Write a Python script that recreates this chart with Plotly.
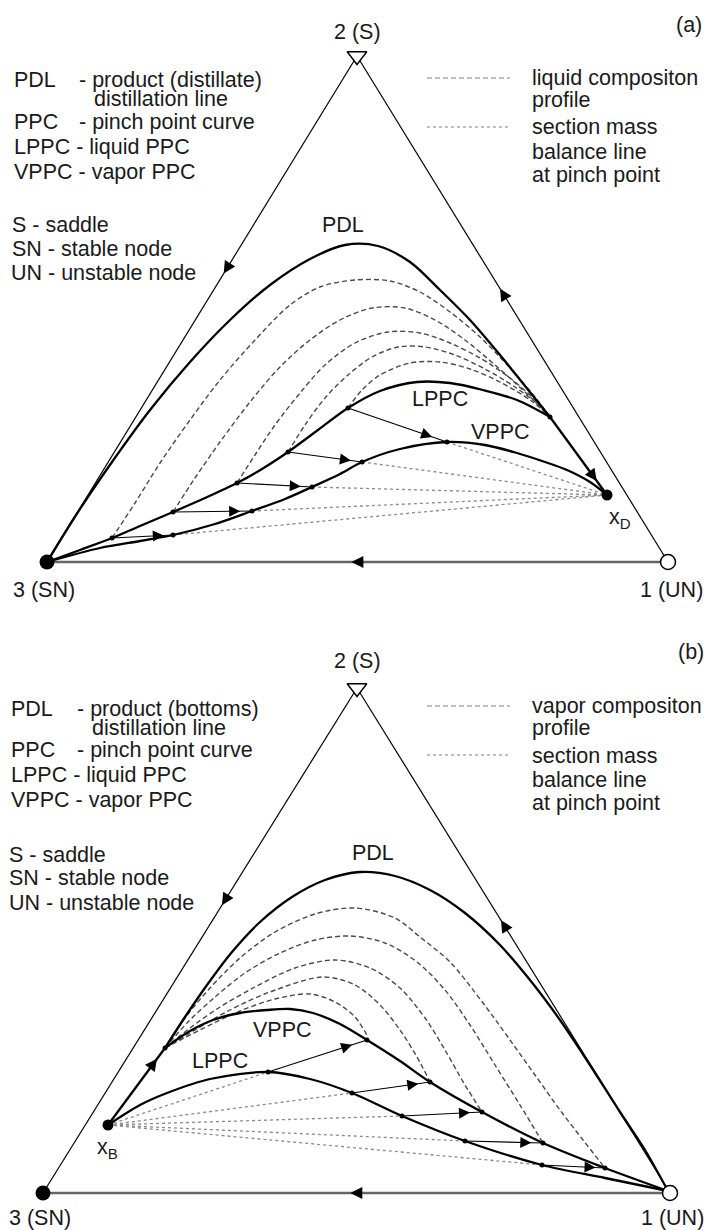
import math
import plotly.graph_objects as go

FONT = "Liberation Sans, Arial, sans-serif"
FS = 21.5

# ---------------- panel (a) : distillate ----------------
A_TRI_X = [357, 47, 668]          # vertices 2, 3, 1
A_TRI_Y = [56, 562, 562]
A_XD = [607, 495]
A_PDL_X = [47, 78, 112, 150, 190, 230, 270, 310, 345, 378, 410, 440, 470, 500, 525, 550]
A_PDL_Y = [562, 512, 462, 410, 362, 320, 285, 259, 245, 246, 262, 290, 320, 355, 386, 417]
A_LPPC_X = [47, 80, 112, 140, 173, 205, 237, 262, 288, 318, 348, 380, 417, 450, 483, 517, 550]
A_LPPC_Y = [562, 550, 538, 526, 512, 498, 483, 469, 452, 430, 408, 391, 382, 383, 390, 400, 417]
A_VPPC_X = [47, 100, 140, 173, 215, 252, 285, 312, 340, 362, 400, 447, 485, 517, 545, 567, 590, 607]
A_VPPC_Y = [562, 548, 541, 535, 524, 511, 499, 487, 474, 462, 449, 442, 445, 453, 462, 470, 482, 495]
A_PROF_X = [[112, 135, 160, 190, 220, 255, 290, 320, 355, 390, 420, 450, 480, 510, 535, 550],
            [173, 195, 220, 250, 280, 310, 340, 372, 405, 435, 465, 495, 525, 550],
            [237, 255, 275, 300, 325, 355, 388, 420, 450, 480, 510, 535, 550],
            [288, 305, 325, 348, 372, 398, 425, 455, 485, 515, 540, 550],
            [348, 362, 380, 410, 440, 470, 500, 530, 550]]
A_PROF_Y = [[538, 503, 463, 420, 380, 340, 305, 287, 280, 281, 292, 312, 337, 368, 397, 417],
            [512, 478, 442, 402, 367, 340, 320, 308, 308, 320, 340, 365, 392, 417],
            [483, 455, 425, 393, 365, 343, 332, 333, 343, 358, 378, 400, 417],
            [452, 425, 398, 375, 357, 347, 347, 355, 369, 387, 406, 417],
            [408, 390, 375, 363, 362, 369, 382, 400, 417]]
A_PINCH_LX = [112, 173, 237, 288, 348]
A_PINCH_LY = [538, 512, 483, 452, 408]
A_PINCH_VX = [173, 252, 312, 362, 447]
A_PINCH_VY = [535, 511, 487, 462, 442]

# ---------------- panel (b) : bottoms ----------------
B_TRI_X = [357, 43, 670]
B_TRI_Y = [688, 1193, 1193]
B_XB = [108, 1125]
B_JUNC = [165, 1048]
B_PDL_X = [165, 185, 207, 232, 260, 292, 325, 360, 395, 430, 465, 500, 530, 560, 590, 620, 645, 668]
B_PDL_Y = [1048, 1017, 985, 952, 922, 897, 880, 872, 876, 890, 913, 945, 980, 1020, 1065, 1112, 1150, 1191]
B_LPPC_X = [108, 140, 167, 210, 268, 310, 352, 402, 465, 542, 605, 668]
B_LPPC_Y = [1125, 1105, 1093, 1079, 1072, 1079, 1093, 1116, 1141, 1165, 1178, 1191]
B_VPPC_X = [165, 190, 213, 240, 267, 290, 313, 340, 367, 400, 430, 482, 543, 605, 668]
B_VPPC_Y = [1048, 1031, 1020, 1013, 1010, 1009, 1013, 1024, 1040, 1061, 1082, 1112, 1143, 1168, 1191]
B_PROF_X = [[165, 185, 210, 240, 275, 315, 355, 395, 420, 450, 483, 510, 535, 560, 583, 605],
            [165, 188, 215, 245, 280, 315, 350, 385, 417, 445, 470, 495, 520, 543],
            [165, 190, 220, 255, 295, 335, 370, 400, 425, 445, 465, 482],
            [165, 195, 230, 270, 323, 355, 380, 400, 417, 430],
            [165, 200, 240, 275, 310, 335, 355, 368]]
B_PROF_Y = [[1048, 1018, 988, 958, 932, 914, 908, 918, 937, 962, 1003, 1040, 1075, 1110, 1140, 1168],
            [1048, 1022, 997, 973, 953, 940, 936, 943, 962, 990, 1025, 1065, 1105, 1143],
            [1048, 1028, 1007, 987, 968, 960, 968, 988, 1018, 1050, 1085, 1112],
            [1048, 1030, 1010, 992, 977, 985, 1005, 1030, 1057, 1082],
            [1048, 1030, 1011, 999, 994, 1002, 1017, 1037]]
B_PINCH_LX = [268, 352, 402, 465, 542]
B_PINCH_LY = [1072, 1093, 1116, 1141, 1165]
B_PINCH_VX = [367, 430, 482, 543, 605]
B_PINCH_VY = [1040, 1082, 1112, 1143, 1168]

EDGE_ARROW_T = [0.43, 0.54, 0.51]   # left (2->3), right (1->2), bottom (1->3)
PINCH_ARROW_T = 0.85

fig = go.Figure()
annotations = []


def line(xs, ys, color="black", width=1.2, dash=None, spline=False):
    fig.add_trace(go.Scatter(
        x=xs, y=ys, mode="lines", hoverinfo="skip", showlegend=False,
        line=dict(color=color, width=width, dash=dash,
                  shape="spline" if spline else "linear", smoothing=0.9)))


def dots(xs, ys, size=5, color="black", symbol="circle", lc="black", lw=0):
    fig.add_trace(go.Scatter(
        x=xs, y=ys, mode="markers", hoverinfo="skip", showlegend=False,
        marker=dict(size=size, color=color, symbol=symbol,
                    line=dict(color=lc, width=lw))))


def arrowhead(x0, y0, x1, y1, t, width=1.1, size=2.0):
    hx, hy = x0 + t * (x1 - x0), y0 + t * (y1 - y0)
    d = math.hypot(x1 - x0, y1 - y0)
    ux, uy = (x1 - x0) / d, (y1 - y0) / d
    annotations.append(dict(
        x=hx, y=hy, ax=hx - 12 * ux, ay=hy - 12 * uy, xref="x", yref="y",
        axref="x", ayref="y", showarrow=True, arrowhead=2, arrowsize=size,
        arrowwidth=width, arrowcolor="black", text="", standoff=0))


def text(x, y, s, anchor="left", size=FS):
    annotations.append(dict(x=x, y=y, xref="x", yref="y", text=s, showarrow=False,
                            xanchor=anchor, yanchor="middle",
                            font=dict(family=FONT, size=size, color="#1a1a1a")))


def panel(tri_x, tri_y, pdl_x, pdl_y, lppc_x, lppc_y, vppc_x, vppc_y,
          prof_x, prof_y, plx, ply, pvx, pvy, prod, junc, mode):
    ax2, ay2 = tri_x[0], tri_y[0]
    ax3, ay3 = tri_x[1], tri_y[1]
    ax1, ay1 = tri_x[2], tri_y[2]
    # triangle edges
    line([ax2, ax3], [ay2, ay3], width=1.2)
    line([ax1, ax2], [ay1, ay2], width=1.2)
    line([ax3, ax1], [ay3, ay1], color="#666", width=2.4)
    arrowhead(ax2, ay2, ax3, ay3, EDGE_ARROW_T[0], size=2.2)
    arrowhead(ax1, ay1, ax2, ay2, EDGE_ARROW_T[1], size=2.2)
    arrowhead(ax1, ay1, ax3, ay3, EDGE_ARROW_T[2], size=2.2)
    # section mass balance lines (dotted)
    if mode == "a":
        for x, y in zip(pvx, pvy):
            line([x, prod[0]], [y, prod[1]], color="#8a8a8a", width=1.3, dash="dot")
    else:
        for x, y in zip(plx, ply):
            line([prod[0], x], [prod[1], y], color="#8a8a8a", width=1.3, dash="dot")
    # composition profiles (dashed)
    for xs, ys in zip(prof_x, prof_y):
        line(xs, ys, color="#4a4a4a", width=1.4, dash="5px,3px", spline=True)
    # thick curves
    line(pdl_x, pdl_y, width=2.3, spline=True)
    line(lppc_x, lppc_y, width=2.3, spline=True)
    line(vppc_x, vppc_y, width=2.3, spline=True)
    line([junc[0], prod[0]], [junc[1], prod[1]], width=2.3)
    if mode == "a":
        arrowhead(junc[0], junc[1], prod[0], prod[1], 0.82, width=1.6, size=1.5)
    else:
        arrowhead(prod[0], prod[1], junc[0], junc[1], 0.86, width=1.6, size=1.5)
    # pinch arrows
    for x0, y0, x1, y1 in zip(plx, ply, pvx, pvy):
        line([x0, x1], [y0, y1], width=1.2)
        arrowhead(x0, y0, x1, y1, PINCH_ARROW_T)
    dots(plx + pvx + [junc[0]], ply + pvy + [junc[1]], size=5)
    dots([prod[0]], [prod[1]], size=11)
    # vertices
    dots([ax2], [ay2], size=17, symbol="triangle-down", color="white", lw=1.4)
    dots([ax3], [ay3], size=15, color="black")
    dots([ax1], [ay1], size=15, color="white", lw=1.5)


panel(A_TRI_X, A_TRI_Y, A_PDL_X, A_PDL_Y, A_LPPC_X, A_LPPC_Y, A_VPPC_X, A_VPPC_Y,
      A_PROF_X, A_PROF_Y, A_PINCH_LX, A_PINCH_LY, A_PINCH_VX, A_PINCH_VY,
      A_XD, [A_PDL_X[-1], A_PDL_Y[-1]], "a")
panel(B_TRI_X, B_TRI_Y, B_PDL_X, B_PDL_Y, B_LPPC_X, B_LPPC_Y, B_VPPC_X, B_VPPC_Y,
      B_PROF_X, B_PROF_Y, B_PINCH_LX, B_PINCH_LY, B_PINCH_VX, B_PINCH_VY,
      B_XB, B_JUNC, "b")

# legend samples
for dy in (0, 628):
    line([427, 510], [78 + dy, 78 + dy], color="#a8a8a8", width=1.6, dash="5px,3px")
    line([427, 510], [127 + dy, 127 + dy], color="#a8a8a8", width=1.4, dash="dot")

# texts panel (a)
text(357, 32, "2 (S)", "center")
text(704, 25, "(a)", "right")
text(11, 590, "3 (SN)")
text(705, 590, "1 (UN)", "right")
text(343, 225, "PDL", "center")
text(440, 399, "LPPC", "center")
text(500, 432, "VPPC", "center")
text(620, 518, "x<sub>D</sub>", "center")
text(12, 80, "PDL")
text(77, 80, "- product (distillate)")
text(92, 99, "distillation line")
text(12, 122, "PPC")
text(77, 122, "- pinch point curve")
text(12, 147, "LPPC - liquid PPC")
text(12, 172, "VPPC - vapor PPC")
text(10, 225, "S - saddle")
text(10, 249, "SN - stable node")
text(9, 273, "UN - unstable node")
text(530, 78, "liquid compositon")
text(530, 100, "profile")
text(530, 127, "section mass")
text(530, 152, "balance line")
text(530, 175, "at pinch point")

# texts panel (b)
text(357, 661, "2 (S)", "center")
text(706, 652, "(b)", "right")
text(7, 1218, "3 (SN)")
text(706, 1218, "1 (UN)", "right")
text(373, 853, "PDL", "center")
text(282, 1030, "VPPC", "center")
text(220, 1061, "LPPC", "center")
text(107, 1148, "x<sub>B</sub>", "center")
text(9, 709, "PDL")
text(75, 709, "- product (bottoms)")
text(90, 728, "distillation line")
text(9, 750, "PPC")
text(75, 750, "- pinch point curve")
text(9, 775, "LPPC - liquid PPC")
text(9, 800, "VPPC - vapor PPC")
text(7, 855, "S - saddle")
text(7, 878, "SN - stable node")
text(7, 903, "UN - unstable node")
text(530, 706, "vapor compositon")
text(530, 728, "profile")
text(530, 756, "section mass")
text(530, 780, "balance line")
text(530, 803, "at pinch point")

fig.update_layout(
    width=711, height=1230, margin=dict(l=0, r=0, t=0, b=0),
    paper_bgcolor="white", plot_bgcolor="white", showlegend=False,
    xaxis=dict(range=[0, 711], visible=False, fixedrange=True),
    yaxis=dict(range=[1230, 0], visible=False, fixedrange=True),
    annotations=annotations,
)
fig.write_html("out.html")
